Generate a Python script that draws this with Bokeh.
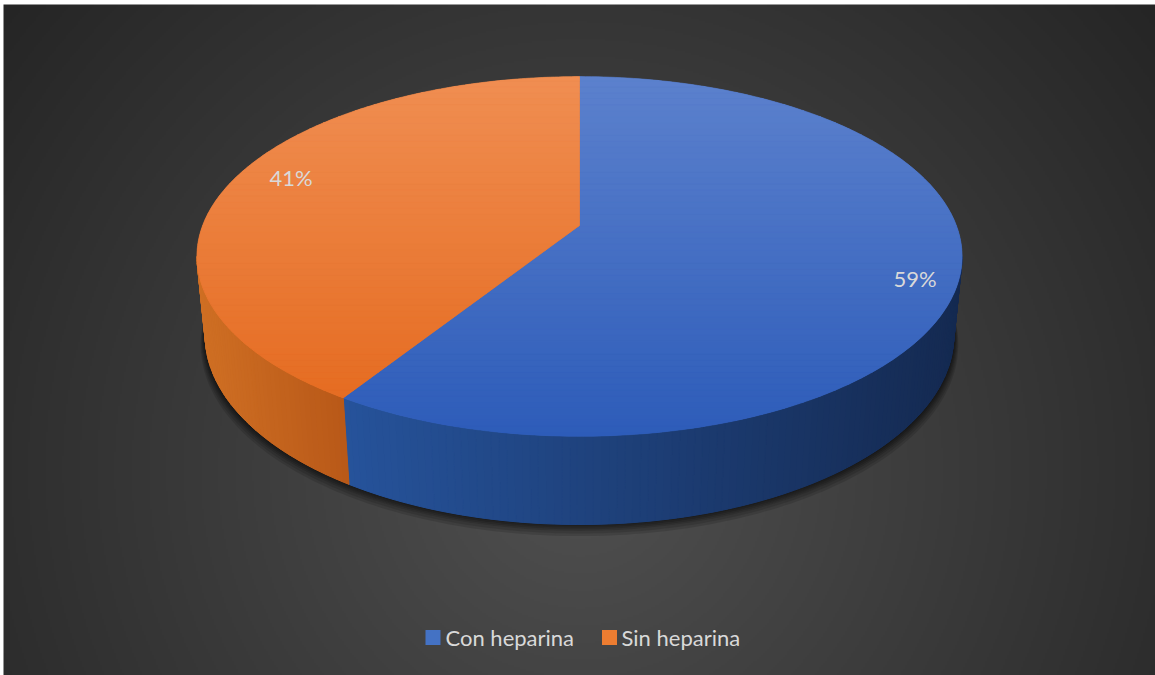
import numpy as np
from bokeh.plotting import figure
from bokeh.models import Range1d
from bokeh.embed import file_html
from bokeh.resources import INLINE
from bokeh.core.properties import value

# ---------------- data ----------------
categories = ["Con heparina", "Sin heparina"]
values = [59, 41]
labels = ["59%", "41%"]
legend_colors = ["#4472c4", "#ed7d31"]
top_light = [(92, 129, 205), (240, 142, 82)]
top_dark = [(45, 92, 185), (228, 104, 28)]
side_left = [(38, 83, 155), (208, 112, 36)]
side_right = [(20, 41, 80), (184, 88, 24)]

W, H = 1155, 675

# ---------------- 3D pie projection ----------------
CX, CY = 579.0, 225.0
SA, CA = 0.463, 0.886
D, F, DEPTH = 5.15, 1941.0, 0.238


def proj(X, Y, Z):
    dep = D + Z * CA - Y * SA
    vert = Y * CA + Z * SA
    sx = CX + F * X / dep
    sy = CY - F * vert / dep
    return sx, H - sy  # y up for bokeh


def ring(phis, Y, r=1.0):
    ph = np.radians(phis)
    return proj(r * np.sin(ph), Y, r * np.cos(ph))


def lerp(c0, c1, t):
    t = min(max(t, 0.0), 1.0)
    return "#%02x%02x%02x" % tuple(int(round(a + (b - a) * t)) for a, b in zip(c0, c1))


def clip_poly(px, py, ylo, yhi):
    pts = list(zip(px, py))

    def clip(pts, inside, inter):
        out = []
        n = len(pts)
        for i in range(n):
            cur, prev = pts[i], pts[i - 1]
            if inside(cur):
                if not inside(prev):
                    out.append(inter(prev, cur))
                out.append(cur)
            elif inside(prev):
                out.append(inter(prev, cur))
        return out

    def ix(yv):
        def f(a, b):
            t = (yv - a[1]) / (b[1] - a[1])
            return (a[0] + t * (b[0] - a[0]), yv)
        return f

    pts = clip(pts, lambda p: p[1] >= ylo, ix(ylo))
    if pts:
        pts = clip(pts, lambda p: p[1] <= yhi, ix(yhi))
    return pts


total = float(sum(values))
bounds = [0.0]
for v in values:
    bounds.append(bounds[-1] + 360.0 * v / total)

# silhouette angles
dense = np.linspace(0, 360, 3601)
sx_top, _ = ring(dense, 0.0)
phi_R = dense[np.argmax(sx_top)]
phi_L = dense[np.argmin(sx_top)]

p = figure(width=W, height=H, x_range=Range1d(0, W), y_range=Range1d(0, H),
           output_backend="svg", toolbar_location=None, min_border=0)
p.axis.visible = False
p.grid.visible = False
p.outline_line_color = None
p.background_fill_color = "white"
p.border_fill_color = "white"

# ---------------- background radial gradient ----------------
nx, ny = 576, 336
x0, x1 = 3.0, float(W)
yb0, yb1 = 0.0, 671.0
gx = x0 + (np.arange(nx) + 0.5) * (x1 - x0) / nx
gy_up = yb0 + (np.arange(ny) + 0.5) * (yb1 - yb0) / ny
GX, GY = np.meshgrid(gx, H - gy_up)
dist = np.sqrt((GX - 580.0) ** 2 + (GY - 470.0) ** 2) / 760.0
t = np.clip(dist, 0, 1)
inner, outer = 80.0, 36.0
g = (inner + (outer - inner) * t).astype(np.uint8)
img = np.empty((ny, nx), dtype=np.uint32)
view = img.view(dtype=np.uint8).reshape((ny, nx, 4))
view[..., 0] = g
view[..., 1] = g
view[..., 2] = g
view[..., 3] = 255
p.image_rgba(image=[img], x=x0, y=yb0, dw=x1 - x0, dh=yb1 - yb0)

# ---------------- shadow ----------------
full = np.linspace(0, 360, 361)
bx, by = ring(full, -DEPTH)
ccx, ccy = CX, H - CY
for k, (off, sc) in enumerate([(1, 1.002), (2, 1.004), (3, 1.006), (4, 1.008), (6, 1.010), (8, 1.012)]):
    p.patch(ccx + (bx - ccx) * sc, ccy + (by - ccy) * sc - off,
            fill_color="black", fill_alpha=0.13, line_color=None)

# ---------------- side walls ----------------
for i in range(len(values)):
    a0 = max(bounds[i], phi_R)
    a1 = min(bounds[i + 1], phi_L)
    if a1 <= a0:
        continue
    n = max(4, int((a1 - a0) / 1.0))
    edges = np.linspace(a0, a1, n + 1)
    tx, ty = ring(edges, 0.0)
    ux, uy = ring(edges, -DEPTH)
    xmin, xmax = min(tx.min(), ux.min()), max(tx.max(), ux.max())
    # base under strips to hide seams
    p.patch(np.concatenate([tx, ux[::-1]]), np.concatenate([ty, uy[::-1]]),
            fill_color=lerp(side_right[i], side_left[i], 0.5), line_color=None)
    xs_l, ys_l, cols = [], [], []
    for j in range(n):
        xs_l.append([tx[j], tx[j + 1], ux[j + 1], ux[j]])
        ys_l.append([ty[j], ty[j + 1], uy[j + 1], uy[j]])
        mx = 0.25 * (tx[j] + tx[j + 1] + ux[j] + ux[j + 1])
        tt = (xmax - mx) / (xmax - xmin)  # 0 right, 1 left
        cols.append(lerp(side_right[i], side_left[i], tt))
    p.patches(xs=xs_l, ys=ys_l, fill_color=cols, line_color=cols, line_width=1)

# ---------------- top faces ----------------
ytop = H - 76.0
ybot = H - 436.0
nb = 60
band_edges = np.linspace(ybot - 2, ytop + 2, nb + 1)
for i in range(len(values)):
    arc = np.linspace(bounds[i], bounds[i + 1], 200)
    ax, ay = ring(arc, 0.0)
    px = np.concatenate([[CX], ax])
    py = np.concatenate([[H - CY], ay])
    p.patch(px, py, fill_color=lerp(top_light[i], top_dark[i], 0.5), line_color=None)
    xs_l, ys_l, cols = [], [], []
    for j in range(nb):
        pts = clip_poly(px, py, band_edges[j], band_edges[j + 1])
        if len(pts) < 3:
            continue
        xs_l.append([q[0] for q in pts])
        ys_l.append([q[1] for q in pts])
        mid = 0.5 * (band_edges[j] + band_edges[j + 1])
        tt = (ytop - mid) / (ytop - ybot)
        cols.append(lerp(top_light[i], top_dark[i], tt))
    p.patches(xs=xs_l, ys=ys_l, fill_color=cols, line_color=cols, line_width=0.6)

# ---------------- data labels ----------------
LABEL_R = 0.88
LABEL_ROT = 3.0
lx, ly = [], []
for i in range(len(values)):
    mid = 0.5 * (bounds[i] + bounds[i + 1]) + LABEL_ROT
    sx, sy = ring(np.array([mid]), 0.0, LABEL_R)
    lx.append(float(sx[0]))
    ly.append(float(sy[0]))
p.text(x=lx, y=ly, text=labels, text_align="center", text_baseline="middle",
       x_offset=[6, 10], text_font=value("Lato"), text_font_size="22px", text_color="#d9d9d9")

# ---------------- legend ----------------
leg_y = H - 637.0
sq_x = [432.5, 609.0]
tx_x = [445.0, 621.0]
p.rect(x=sq_x, y=[leg_y] * 2, width=15, height=15, fill_color=legend_colors, line_color=None)
p.text(x=tx_x, y=[leg_y] * 2, text=categories, text_align="left", text_baseline="middle",
       text_font=value("Lato"), text_font_size="22px", text_color="#d9d9d9")

open("out.html", "w").write(file_html(p, INLINE))
